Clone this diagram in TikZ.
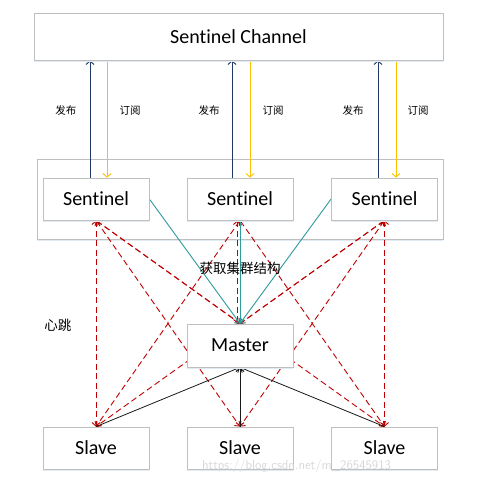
\documentclass[tikz,border=0pt]{standalone}
\usepackage{fontspec}
\setmainfont[Ligatures={NoCommon}]{Carlito}
\newfontfamily\cjk{Noto Sans CJK SC}
\usetikzlibrary{arrows.meta,shadows}
\pgfdeclarelayer{back}
\pgfdeclarelayer{mid}
\pgfsetlayers{back,mid,main}
\definecolor{boxgray}{HTML}{BFBFBF}
\definecolor{shadowblue}{HTML}{E2EAF4}
\definecolor{pubblue}{HTML}{203864}
\definecolor{subyellow}{HTML}{FFC000}
\definecolor{hbred}{HTML}{C00000}
\definecolor{teal2}{HTML}{2E9C9C}
\definecolor{wmgray}{HTML}{D8D8D8}
\begin{document}
\begin{tikzpicture}[x=1pt,y=-1pt,
  box/.style={draw=boxgray, line width=0.8pt, fill=white, minimum width=106pt, minimum height=42pt, inner sep=0pt, font=\fontsize{20}{22}\selectfont, general shadow={fill=shadowblue, shadow yshift=-2pt}},
  tip/.style={-{Straight Barb[length=3.5pt,width=8pt]}},
  pub/.style={tip, draw=pubblue, line width=0.9pt},
  sub/.style={tip, draw=subyellow, line width=0.9pt},
  hbtips/.style={{Straight Barb[length=3.5pt,width=8pt]}-{Straight Barb[length=3.5pt,width=8pt]}},
  hb/.style={hbtips, draw=hbred, line width=0.9pt, dash pattern=on 6pt off 3.5pt},
  get/.style={tip, draw=teal2, line width=0.9pt},
  rep/.style={tip, draw=black!90, line width=0.8pt},
  smalllab/.style={font=\cjk\fontsize{10.5}{12}\selectfont, inner sep=0pt},
  biglab/.style={font=\cjk\fontsize{13.5}{15}\selectfont, inner sep=0pt}]
\useasboundingbox (0,0) rectangle (481,483);
\begin{pgfonlayer}{back}
\fill[white] (0,0) rectangle (481,483);
\end{pgfonlayer}

% nodes
\node[box, minimum width=409pt, minimum height=47pt] (ch) at (238.5,36.5) {Sentinel Channel};
\node[box] (s1) at (96,199) {Sentinel};
\node[box] (s2) at (240,199) {Sentinel};
\node[box] (s3) at (384.5,199) {Sentinel};
\node[box, minimum height=43pt] (m) at (240,345.5) {Master};
\node[box] (l1) at (96,448) {Slave};
\node[box] (l2) at (240,448) {Slave};
\node[box] (l3) at (384.5,448) {Slave};

% container
\begin{pgfonlayer}{back}
\node[draw=boxgray, line width=0.8pt, fill=white, minimum width=406pt, minimum height=80pt, inner sep=0pt, general shadow={fill=shadowblue, shadow yshift=-2pt}] (cont) at (240,199) {};
\end{pgfonlayer}

% connectors
\begin{pgfonlayer}{mid}
% publish / subscribe
\draw[pub] ([xshift=-6pt]s1.north) -- ([xshift=-6pt]s1.north |- ch.south);
\draw[sub] ([xshift=11pt]s1.north |- ch.south) -- ([xshift=11pt]s1.north);
\draw[pub] ([xshift=-8pt]s2.north) -- ([xshift=-8pt]s2.north |- ch.south);
\draw[sub] ([xshift=10pt]s2.north |- ch.south) -- ([xshift=10pt]s2.north);
\draw[pub] ([xshift=-6.5pt]s3.north) -- ([xshift=-6.5pt]s3.north |- ch.south);
\draw[sub] ([xshift=11.5pt]s3.north |- ch.south) -- ([xshift=11.5pt]s3.north);
% heartbeat
\foreach \s in {s1,s3}{
  \draw[hb] (\s.south) -- (m.north);
  \draw[hb] (\s.south) -- (l1.north);
  \draw[hb] (\s.south) -- (l2.north);
  \draw[hb] (\s.south) -- (l3.north);
}
\draw[hb, -{Straight Barb[length=3.5pt,width=8pt]}] (s2.south) -- (l2.north);
\draw[hb] ([xshift=-2.5pt]s2.south) -- ([xshift=-2.5pt]m.north);
\draw[hb] (s2.south) -- (l1.north);
\draw[hb] (s2.south) -- (l3.north);
% get cluster structure
\draw[get, line width=1pt] (s2.south) -- (m.north);
\draw[get] (s1.east) -- (m.north);
\draw[get] (s3.west) -- (m.north);
% replication
\draw[rep, line width=1pt] (l2.north) -- (m.south);
\draw[rep] (l1.north) -- (m.south);
\draw[rep] (l3.north) -- (m.south);
\end{pgfonlayer}

% labels
\node[smalllab] (p1) at (66,111) {发布};
\node[smalllab] (q1) at (130,111) {订阅};
\node[smalllab] (p2) at (209,111) {发布};
\node[smalllab] (q2) at (273,111) {订阅};
\node[smalllab] (p3) at (353,111) {发布};
\node[smalllab] (q3) at (418,111) {订阅};
\node[biglab] (gl) at (240,268) {获取集群结构};
\node[biglab] (hl) at (58,325) {心跳};
\node[anchor=west, inner sep=0pt, text=wmgray, font=\fontsize{13}{14}\selectfont\sffamily] (wm) at (202,466) {https://blog.csdn.net/m\_26545913};
\end{tikzpicture}
\end{document}
